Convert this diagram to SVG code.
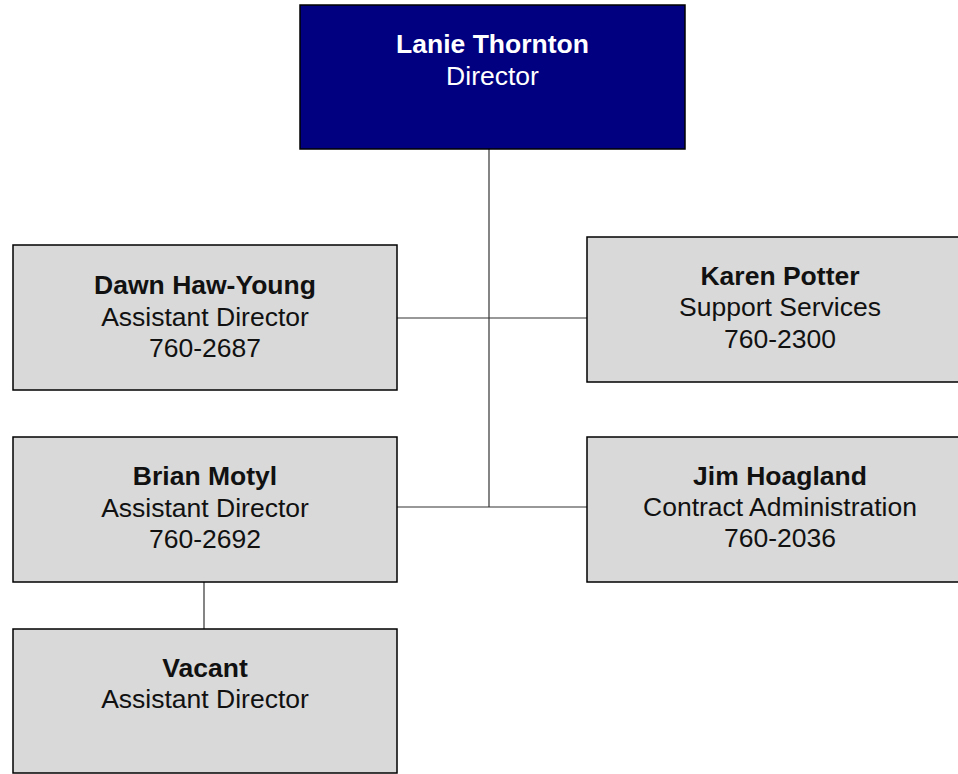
<svg xmlns="http://www.w3.org/2000/svg" width="958" height="774" viewBox="0 0 958 774">
<style>
.box{fill:#d9d9d9;stroke:#000;stroke-width:1.5}
.top{fill:#000080;stroke:#000;stroke-width:1.5}
text{font-family:"Liberation Sans",Arial,sans-serif;font-size:26.5px;text-anchor:middle;fill:#111}
.b{font-weight:bold}
.w{fill:#fff}
.conn line{stroke:#333;stroke-width:1.2}
</style>
<rect width="958" height="774" fill="#fff"/>
<g class="conn">
<line x1="489" y1="149" x2="489" y2="507"/>
<line x1="397" y1="318" x2="587" y2="318"/>
<line x1="397" y1="507" x2="587" y2="507"/>
<line x1="204" y1="582" x2="204" y2="629"/>
</g>
<g id="director">
<rect class="top" x="300" y="5" width="385" height="144"/>
<text class="b w" x="492.5" y="53">Lanie Thornton</text>
<text class="w" x="492.5" y="85">Director</text>
</g>
<g id="dawn">
<rect class="box" x="13" y="245" width="384" height="145"/>
<text class="b" x="205" y="294">Dawn Haw-Young</text>
<text x="205" y="326">Assistant Director</text>
<text x="205" y="357">760-2687</text>
</g>
<g id="karen">
<rect class="box" x="587" y="237" width="386" height="145"/>
<text class="b" x="780" y="285">Karen Potter</text>
<text x="780" y="316">Support Services</text>
<text x="780" y="348">760-2300</text>
</g>
<g id="brian">
<rect class="box" x="13" y="437" width="384" height="145"/>
<text class="b" x="205" y="485">Brian Motyl</text>
<text x="205" y="517">Assistant Director</text>
<text x="205" y="548">760-2692</text>
</g>
<g id="jim">
<rect class="box" x="587" y="437" width="386" height="145"/>
<text class="b" x="780" y="485">Jim Hoagland</text>
<text x="780" y="516">Contract Administration</text>
<text x="780" y="547">760-2036</text>
</g>
<g id="vacant">
<rect class="box" x="13" y="629" width="384" height="144"/>
<text class="b" x="205" y="677">Vacant</text>
<text x="205" y="708">Assistant Director</text>
</g>
</svg>
